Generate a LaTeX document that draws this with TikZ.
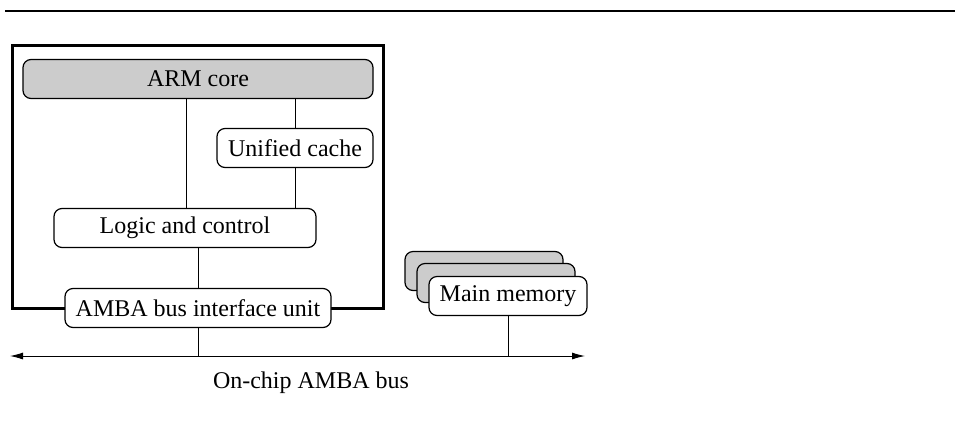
\documentclass[tikz,border=0pt]{standalone}
\usepackage{fontspec}
\setmainfont{Liberation Serif}
\usetikzlibrary{arrows.meta}

\definecolor{boxgray}{gray}{0.8}
\tikzset{
  unit/.style={draw, line width=1.2pt, rounded corners=8pt, fill=white,
    inner sep=0pt, minimum height=39pt, font=\fontsize{24}{28}\selectfont},
  core/.style={unit, fill=boxgray},
  wire/.style={line width=0.9pt}
}

\begin{document}
\begin{tikzpicture}[x=1pt,y=-1pt]
\useasboundingbox (0,0) rectangle (955,424);

% rule at the top
\draw[line width=1.4pt] (5,11) -- (955,11);

% chip outline
\draw[line width=3pt] (12,45) rectangle (383,308);

% blocks on the chip
\node[core, minimum width=350pt] (arm) at (198,79) {ARM core};
\node[unit, minimum width=156pt] (cache) at (295,148) {Unified cache};
\node[unit, minimum width=262pt] (logic) at (185,228) {Logic and control};
\node[unit, minimum width=266pt] (biu) at (198,308) {AMBA bus interface unit};

% memory stack
\node[core, minimum width=158pt] (memb) at (484,271) {};
\node[core, minimum width=158pt] (memm) at (496,283) {};
\node[unit, minimum width=158pt] (mem) at (508,296) {Main memory};

% bus
\coordinate (busL) at (10,356);
\coordinate (busR) at (585,356);
\coordinate (coreX) at (186,0);
\draw[wire, {Latex[length=13pt,width=7pt]}-{Latex[length=13pt,width=7pt]}] (busL) -- (busR);
\node[font=\fontsize{24}{28}\selectfont] (buslbl) at (311,383) {On-chip AMBA bus};

% links
\draw[wire] (arm.south -| coreX) -- (logic.north -| coreX);
\draw[wire] (arm.south -| cache.north) -- (cache.north);
\draw[wire] (cache.south) -- (cache.south |- logic.north);
\draw[wire] (logic.south -| biu.north) -- (biu.north);
\draw[wire] (biu.south) -- (biu.south |- busL);
\draw[wire] (mem.south) -- (mem.south |- busL);

\end{tikzpicture}
\end{document}
